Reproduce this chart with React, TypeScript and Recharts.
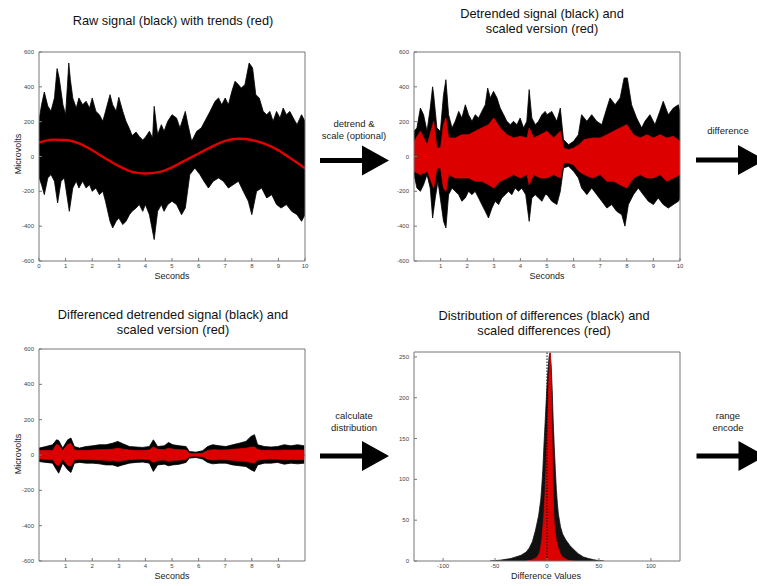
import React from 'react';
import { ComposedChart, Area, Line, XAxis, YAxis, ReferenceLine } from 'recharts';

type Pt = [number, number];

// Panel 1: raw signal (envelope of the black trace) and trend, microvolts vs seconds
const rawHigh: Pt[] = [
  [0, 210], [0.1, 300], [0.2, 370], [0.33, 290], [0.45, 260], [0.58, 336], [0.68, 505], [0.76, 450],
  [0.9, 297], [1.0, 240], [1.12, 537], [1.18, 441], [1.27, 336], [1.4, 278], [1.5, 336], [1.64, 297],
  [1.77, 317], [1.9, 278], [2.0, 336], [2.14, 259], [2.27, 240], [2.4, 202], [2.5, 259], [2.67, 355],
  [2.77, 297], [2.9, 260], [3.0, 340], [3.15, 259], [3.27, 202], [3.4, 160], [3.5, 120], [3.65, 140],
  [3.77, 115], [3.9, 95], [4.0, 110], [4.15, 145], [4.27, 106], [4.33, 288], [4.46, 125], [4.6, 183],
  [4.7, 145], [4.84, 202], [5.0, 240], [5.17, 221], [5.3, 164], [5.5, 259], [5.6, 183], [5.74, 87],
  [5.93, 145], [6.1, 164], [6.3, 221], [6.43, 259], [6.62, 317], [6.75, 336], [6.87, 297], [7.0, 336],
  [7.12, 297], [7.25, 374], [7.37, 432], [7.5, 412], [7.6, 393], [7.74, 412], [7.9, 537], [8.03, 508],
  [8.15, 355], [8.28, 336], [8.43, 259], [8.56, 240], [8.68, 259], [8.8, 202], [8.93, 259], [9.06, 221],
  [9.18, 278], [9.3, 240], [9.43, 259], [9.56, 221], [9.7, 183], [9.87, 240], [10, 202],
];
const rawLow: Pt[] = [
  [0, -120], [0.1, -164], [0.2, -219], [0.33, -123], [0.45, -104], [0.58, -142], [0.7, -267], [0.83, -142],
  [0.95, -123], [1.14, -315], [1.27, -181], [1.4, -142], [1.5, -181], [1.64, -142], [1.77, -181], [1.9, -162],
  [2.0, -200], [2.14, -181], [2.27, -219], [2.4, -200], [2.5, -257], [2.67, -372], [2.77, -410], [2.9, -372],
  [3.0, -353], [3.15, -391], [3.27, -372], [3.4, -334], [3.5, -315], [3.65, -296], [3.77, -276], [3.9, -315],
  [4.0, -276], [4.15, -334], [4.33, -477], [4.46, -315], [4.6, -276], [4.7, -315], [4.84, -276], [5.0, -257],
  [5.17, -276], [5.36, -334], [5.5, -296], [5.67, -104], [5.86, -66], [6.05, -104], [6.2, -142], [6.37, -181],
  [6.55, -142], [6.75, -123], [6.93, -142], [7.12, -181], [7.3, -162], [7.5, -142], [7.68, -200], [7.87, -257],
  [8.0, -334], [8.18, -200], [8.37, -181], [8.56, -238], [8.75, -219], [8.93, -276], [9.1, -296], [9.3, -276],
  [9.5, -315], [9.7, -334], [9.87, -372], [10, -334],
];
const rawTrend: Pt[] = [
  [0, 80], [0.5, 97], [1, 95], [1.5, 75], [2, 36], [2.5, -12], [3, -55], [3.5, -88], [4, -98], [4.5, -90],
  [5, -62], [5.5, -22], [6, 17], [6.5, 57], [7, 90], [7.5, 102], [8, 95], [8.5, 72], [9, 35], [9.5, -15], [10, -68],
];

// Panel 2: detrended signal (black) and scaled version (red)
const detHigh: Pt[] = [
  [0, 145], [0.11, 164], [0.24, 278], [0.36, 240], [0.49, 145], [0.61, 278], [0.7, 400], [0.74, 355],
  [0.86, 164], [0.99, 145], [1.11, 355], [1.2, 441], [1.3, 240], [1.43, 164], [1.55, 202], [1.68, 259],
  [1.8, 221], [1.93, 297], [2.05, 240], [2.18, 202], [2.3, 240], [2.43, 221], [2.55, 259], [2.68, 297],
  [2.77, 393], [2.87, 336], [2.99, 374], [3.12, 336], [3.24, 278], [3.37, 240], [3.49, 202], [3.62, 183],
  [3.74, 202], [3.87, 183], [3.99, 221], [4.12, 164], [4.24, 202], [4.33, 384], [4.43, 221], [4.56, 183],
  [4.68, 202], [4.81, 240], [4.93, 259], [5.0, 240], [5.18, 259], [5.37, 202], [5.5, 278], [5.62, 97],
  [5.81, 68], [6.0, 87], [6.18, 125], [6.3, 240], [6.5, 202], [6.68, 240], [6.87, 202], [7.06, 183],
  [7.25, 278], [7.37, 336], [7.56, 297], [7.75, 336], [7.9, 451], [8.02, 451], [8.18, 297], [8.37, 221],
  [8.56, 164], [8.68, 202], [8.87, 240], [9.06, 183], [9.24, 259], [9.37, 317], [9.56, 240], [9.75, 278],
  [9.94, 297], [10, 250],
];
const detLow: Pt[] = [
  [0, -104], [0.11, -181], [0.24, -200], [0.36, -162], [0.49, -104], [0.61, -181], [0.7, -353], [0.8, -238],
  [0.9, -142], [1.11, -372], [1.2, -410], [1.3, -219], [1.43, -181], [1.55, -200], [1.68, -219], [1.8, -257],
  [1.93, -238], [2.05, -200], [2.18, -219], [2.3, -200], [2.43, -238], [2.55, -276], [2.68, -315], [2.8, -353],
  [2.93, -296], [3.05, -257], [3.18, -276], [3.3, -238], [3.43, -219], [3.55, -200], [3.68, -219], [3.8, -181],
  [3.93, -200], [4.05, -181], [4.2, -219], [4.33, -372], [4.43, -238], [4.56, -219], [4.68, -238], [4.81, -257],
  [4.93, -219], [5.0, -219], [5.18, -257], [5.37, -276], [5.5, -200], [5.62, -66], [5.81, -56], [6.0, -85],
  [6.18, -123], [6.3, -181], [6.5, -219], [6.68, -181], [6.87, -219], [7.06, -257], [7.25, -296], [7.43, -276],
  [7.62, -315], [7.81, -334], [7.93, -400], [8.06, -276], [8.25, -219], [8.43, -181], [8.62, -219], [8.81, -257],
  [9.0, -276], [9.18, -238], [9.37, -276], [9.56, -296], [9.75, -276], [9.94, -257], [10, -240],
];
const detScaledHigh: Pt[] = [
  [0, 87], [0.24, 145], [0.5, 68], [0.74, 202], [0.86, 49], [1.0, 49], [1.11, 183], [1.2, 221], [1.3, 106],
  [1.55, 106], [1.8, 125], [2.05, 125], [2.3, 145], [2.55, 164], [2.8, 183], [3.0, 221], [3.24, 164],
  [3.5, 125], [3.75, 106], [4.0, 116], [4.25, 106], [4.33, 164], [4.5, 106], [4.75, 125], [5.0, 145],
  [5.25, 106], [5.5, 145], [5.62, 49], [5.81, 39], [6.0, 49], [6.2, 68], [6.4, 97], [6.7, 106], [7.0, 106],
  [7.25, 125], [7.5, 145], [7.75, 164], [8.0, 183], [8.25, 125], [8.5, 106], [8.75, 125], [9.0, 106],
  [9.25, 125], [9.5, 106], [9.75, 116], [10, 87],
];
const detScaledLow: Pt[] = [
  [0, -85], [0.24, -104], [0.5, -85], [0.74, -181], [0.86, -66], [1.0, -66], [1.11, -181], [1.2, -200],
  [1.3, -104], [1.55, -123], [1.8, -123], [2.05, -123], [2.3, -142], [2.55, -142], [2.8, -162], [3.0, -181],
  [3.24, -142], [3.5, -123], [3.75, -104], [4.0, -123], [4.25, -104], [4.33, -162], [4.5, -104], [4.75, -123],
  [5.0, -123], [5.25, -104], [5.5, -123], [5.62, -37], [5.81, -37], [6.0, -47], [6.2, -85], [6.4, -104],
  [6.7, -123], [7.0, -104], [7.25, -142], [7.5, -142], [7.75, -162], [8.0, -181], [8.25, -123], [8.5, -104],
  [8.75, -123], [9.0, -123], [9.25, -104], [9.5, -142], [9.75, -123], [10, -104],
];

// Panel 3: differenced detrended signal (black) and scaled version (red)
const diffTimes = [
  0, 0.26, 0.51, 0.66, 0.74, 0.89, 1.08, 1.2, 1.33, 1.52, 1.77, 2.02, 2.27, 2.52, 2.77, 2.96, 3.15, 3.4,
  3.65, 3.9, 4.15, 4.3, 4.46, 4.71, 4.87, 5.03, 5.28, 5.53, 5.65, 5.9, 6.15, 6.34, 6.53, 6.78, 7.03, 7.28,
  7.53, 7.78, 7.97, 8.1, 8.22, 8.47, 8.72, 8.97, 9.22, 9.47, 9.72, 9.97,
];
const diffHigh = [
  39, 48, 58, 86, 82, 39, 86, 96, 48, 39, 48, 52, 58, 58, 67, 77, 64, 48, 45, 43, 48, 86, 48, 52, 71, 58,
  52, 48, 20, 16, 24, 48, 58, 52, 48, 58, 67, 77, 105, 115, 58, 48, 45, 48, 58, 52, 58, 52,
];
const diffLow = [
  -37, -42, -46, -84, -103, -46, -84, -99, -46, -42, -46, -46, -50, -56, -56, -65, -56, -46, -42, -40, -46,
  -93, -56, -52, -61, -56, -52, -42, -18, -14, -23, -42, -50, -46, -46, -56, -61, -65, -84, -93, -56, -46,
  -46, -42, -52, -46, -50, -46,
];
const diffScaledHigh = [
  25, 25, 25, 60, 55, 25, 60, 65, 28, 25, 25, 28, 30, 30, 33, 38, 33, 28, 25, 25, 28, 45, 32, 30, 38, 33,
  30, 28, 8, 7, 10, 25, 30, 28, 28, 32, 35, 38, 45, 45, 30, 25, 25, 25, 28, 27, 28, 27,
];
const diffScaledLow = [
  -22, -24, -25, -55, -60, -24, -58, -62, -26, -24, -25, -26, -28, -30, -31, -36, -31, -26, -24, -23, -26,
  -42, -30, -28, -36, -31, -28, -26, -7, -6, -9, -24, -28, -26, -27, -30, -33, -36, -43, -44, -28, -24,
  -23, -23, -27, -25, -27, -25,
];

// Panel 4: distribution of differences (black) and scaled differences (red)
const distBlack: Pt[] = [
  [-55, 0], [-50, 0.5], [-45, 1], [-40, 2], [-35, 3], [-30, 5], [-25, 7], [-20, 11], [-17, 16], [-14, 24],
  [-11, 38], [-8, 56], [-6, 75], [-5, 92], [-4, 112], [-3, 140], [-2, 165], [-1, 190], [0, 215], [1, 235],
  [2, 250], [3, 255], [4, 240], [5, 210], [6, 170], [7, 140], [8, 112], [9, 88], [10, 70], [11, 57],
  [13, 42], [15, 33], [18, 26], [22, 19], [25, 15], [30, 9], [35, 5], [40, 3], [45, 1.5], [50, 0.5], [55, 0],
];
const distRed: Pt[] = [
  [-20, 0], [-15, 1], [-10, 4], [-7, 10], [-5, 25], [-3, 56], [-2, 80], [-1, 110], [0, 150], [1, 190],
  [2, 230], [3, 255], [4, 225], [5, 140], [5.5, 105], [6, 80], [6.5, 56], [7, 45], [8, 33], [9, 25],
  [11, 15], [13, 8], [15, 5], [20, 1], [25, 0],
];

const secondsTicksFrom0 = [0, 1, 2, 3, 4, 5, 6, 7, 8, 9, 10];
const secondsTicksFrom1 = [1, 2, 3, 4, 5, 6, 7, 8, 9, 10];
const secondsTicksTo9 = [1, 2, 3, 4, 5, 6, 7, 8, 9];
const microvoltTicks = [-600, -400, -200, 0, 200, 400, 600];
const diffValueTicks = [-100, -50, 0, 50, 100];
const countTicks = [0, 50, 100, 150, 200, 250];

const FONT = '"Liberation Sans", Arial, Helvetica, sans-serif';
const AXIS = '#777';
const RED = '#dd0000';

const zip = (xs: number[], ys: number[]): Pt[] => xs.map((x, i) => [x, ys[i]]);

// join series with their own x values into one table for the chart
function merge(series: Record<string, Pt[]>) {
  const rows = new Map<number, any>();
  Object.entries(series).forEach(([key, pts]) =>
    pts.forEach(([x, y]) => {
      const row = rows.get(x) ?? { x };
      row[key] = y;
      rows.set(x, row);
    })
  );
  return [...rows.values()].sort((a, b) => a.x - b.x);
}

const tickStyle = { fontSize: 6, fill: '#444', fontFamily: FONT };

function Panel({ left, top, height, data, xDomain, xTicks, yDomain, yTicks, children }: any) {
  return (
    <div style={{ position: 'absolute', left, top, width: 320, height }}>
      <ComposedChart width={320} height={height} data={data} margin={{ top: 11, right: 14, bottom: 0, left: 0 }}>
        <XAxis xAxisId="b" type="number" dataKey="x" domain={xDomain} ticks={xTicks} interval={0}
          allowDataOverflow height={24} stroke={AXIS} tickSize={-3} tickMargin={6} tick={tickStyle} />
        <XAxis xAxisId="t" orientation="top" type="number" dataKey="x" domain={xDomain} ticks={xTicks}
          interval={0} allowDataOverflow height={1} stroke={AXIS} tickSize={-3} tick={false} />
        <YAxis yAxisId="l" type="number" domain={yDomain} ticks={yTicks} interval={0}
          allowDataOverflow width={39} stroke={AXIS} tickSize={-3} tickMargin={8} tick={tickStyle} />
        <YAxis yAxisId="r" orientation="right" type="number" domain={yDomain} ticks={yTicks}
          interval={0} allowDataOverflow width={1} stroke={AXIS} tickSize={-3} tick={false} />
        {children}
      </ComposedChart>
    </div>
  );
}

// base slightly past zero so the upper and lower halves overlap without a seam
function band(key: string, color: string, base: number = 0) {
  return (
    <Area key={key} xAxisId="b" yAxisId="l" type="linear" dataKey={key} connectNulls baseValue={base}
      fill={color} fillOpacity={1} stroke={color} strokeWidth={0.8}
      dot={false} activeDot={false} isAnimationActive={false} />
  );
}

function Label({ x, y, text, size = 9, width = 160, rotate = false }: any) {
  return (
    <div style={{
      position: 'absolute', left: x - width / 2, top: y - 6, width, textAlign: 'center',
      fontSize: size, lineHeight: '12px', color: '#222', fontFamily: FONT, whiteSpace: 'nowrap',
      transform: rotate ? 'rotate(-90deg)' : undefined,
    }}>{text}</div>
  );
}

function Title({ x, y, lines }: any) {
  return (
    <div style={{
      position: 'absolute', left: x - 160, top: y, width: 320, textAlign: 'center',
      fontSize: 12.8, lineHeight: '15px', color: '#111', fontFamily: FONT, whiteSpace: 'nowrap',
    }}>
      {lines.map((l: string) => <div key={l}>{l}</div>)}
    </div>
  );
}

function Note({ x, y, lines }: any) {
  return (
    <div style={{
      position: 'absolute', left: x - 50, top: y, width: 100, textAlign: 'center',
      fontSize: 9.5, lineHeight: '12px', color: '#222', fontFamily: FONT, whiteSpace: 'nowrap',
    }}>
      {lines.map((l: string) => <div key={l}>{l}</div>)}
    </div>
  );
}

function arrowPath(x0: number, y: number) {
  const head = x0 + 42;
  const tip = head + 27;
  return `M${x0},${y - 2.4} L${head},${y - 2.4} L${head},${y - 15} L${tip},${y} L${head},${y + 15} L${head},${y + 2.4} L${x0},${y + 2.4} Z`;
}

export default function App() {
  const rawData = merge({ hi: rawHigh, lo: rawLow, trend: rawTrend });
  const detData = merge({ hi: detHigh, lo: detLow, shi: detScaledHigh, slo: detScaledLow });
  const diffData = merge({
    hi: zip(diffTimes, diffHigh), lo: zip(diffTimes, diffLow),
    shi: zip(diffTimes, diffScaledHigh), slo: zip(diffTimes, diffScaledLow),
  });
  const distData = merge({ black: distBlack, red: distRed });

  return (
    <div style={{ position: 'absolute', left: 0, top: 0, width: 757, height: 586, overflow: 'hidden', background: '#fff' }}>
      <Title x={173} y={13} lines={['Raw signal (black) with trends (red)']} />
      <Title x={542} y={6} lines={['Detrended signal (black) and', 'scaled version (red)']} />
      <Title x={173} y={307} lines={['Differenced detrended signal (black) and', 'scaled version (red)']} />
      <Title x={544} y={308} lines={['Distribution of differences (black) and', 'scaled differences (red)']} />

      <Panel left={0} top={40} height={245} data={rawData} xDomain={[0, 10]} xTicks={secondsTicksFrom0}
        yDomain={[-600, 600]} yTicks={microvoltTicks}>
        {band('hi', '#000', -12)}
        {band('lo', '#000', 12)}
        <Line xAxisId="b" yAxisId="l" type="monotone" dataKey="trend" connectNulls stroke="#e00000"
          strokeWidth={2.4} dot={false} activeDot={false} isAnimationActive={false} />
      </Panel>

      <Panel left={375} top={40} height={245} data={detData} xDomain={[0, 10]} xTicks={secondsTicksFrom1}
        yDomain={[-600, 600]} yTicks={microvoltTicks}>
        {band('hi', '#000', -12)}
        {band('lo', '#000', 12)}
        {band('shi', RED, -12)}
        {band('slo', RED, 12)}
      </Panel>

      <Panel left={0} top={337} height={248} data={diffData} xDomain={[0, 10]} xTicks={secondsTicksTo9}
        yDomain={[-600, 600]} yTicks={microvoltTicks}>
        {band('hi', '#000', -6)}
        {band('lo', '#000', 6)}
        {band('shi', RED, -5)}
        {band('slo', RED, 5)}
      </Panel>

      <Panel left={375} top={340} height={245} data={distData} xDomain={[-128, 128]} xTicks={diffValueTicks}
        yDomain={[0, 256]} yTicks={countTicks}>
        {band('black', '#111')}
        {band('red', RED)}
        <ReferenceLine xAxisId="b" yAxisId="l" x={0} stroke="#000" strokeWidth={1} strokeDasharray="1.5 1.5" />
      </Panel>

      <Label x={172} y={276} text="Seconds" />
      <Label x={547} y={276} text="Seconds" />
      <Label x={172} y={576} text="Seconds" />
      <Label x={546} y={576} text="Difference Values" />
      <Label x={17.5} y={154} text="Microvolts" width={80} rotate />
      <Label x={17.5} y={454} text="Microvolts" width={80} rotate />

      <Note x={354} y={118} lines={['detrend &', 'scale (optional)']} />
      <Note x={728} y={125} lines={['difference']} />
      <Note x={354} y={410} lines={['calculate', 'distribution']} />
      <Note x={728} y={410} lines={['range', 'encode']} />

      <svg width={757} height={586} style={{ position: 'absolute', left: 0, top: 0, pointerEvents: 'none' }}>
        <path d={arrowPath(320, 160.5)} fill="#000" />
        <path d={arrowPath(696, 160)} fill="#000" />
        <path d={arrowPath(320, 456)} fill="#000" />
        <path d={arrowPath(696.5, 456)} fill="#000" />
      </svg>
    </div>
  );
}
